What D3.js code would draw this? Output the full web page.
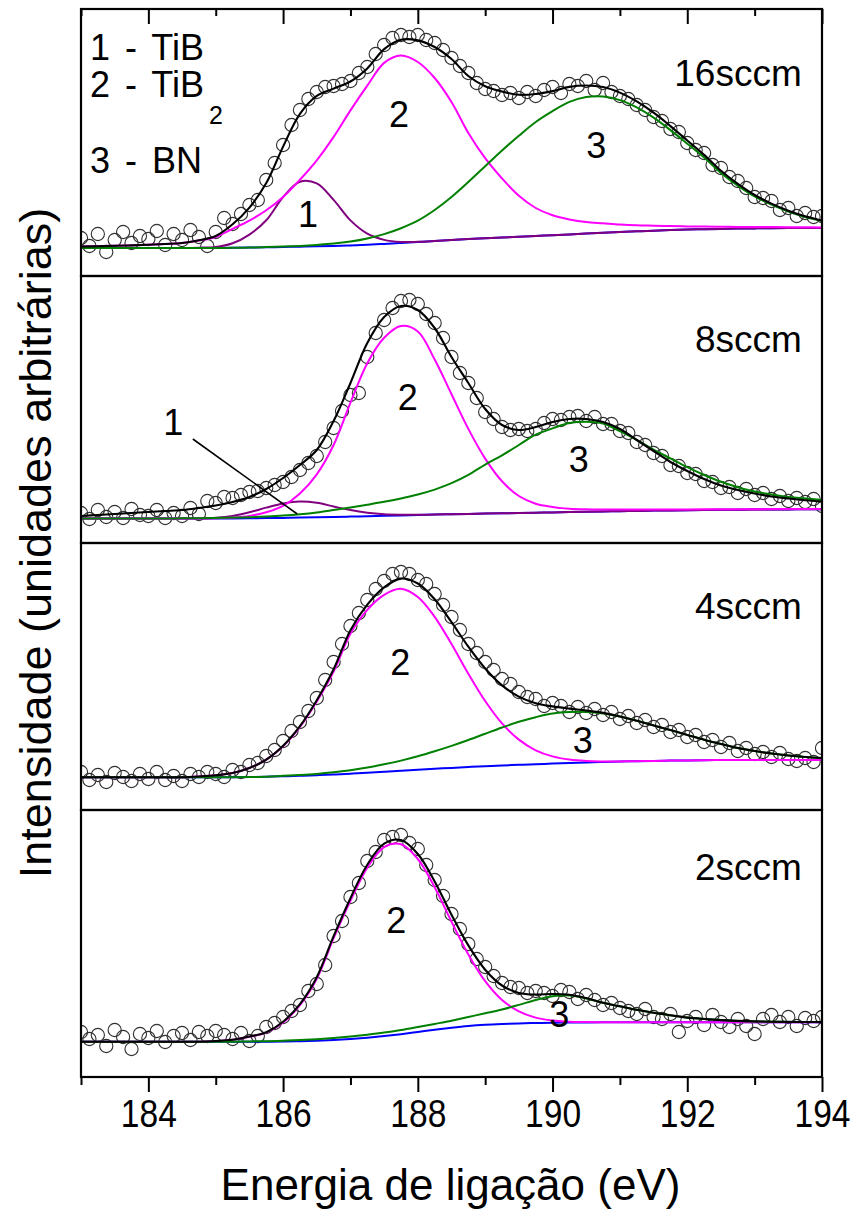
<!DOCTYPE html>
<html>
<head>
<meta charset="utf-8">
<script src="https://cdn.jsdelivr.net/npm/d3@7"></script>
<style>
  html, body { margin: 0; padding: 0; background: #ffffff; }
  svg text { font-family: "Liberation Sans", Arial, Helvetica, sans-serif; fill: #000; }
</style>
</head>
<body>
<svg id="chart" width="858" height="1215"></svg>
<script>
// ---------------- DATA ----------------
// energy grid for the fitted curves (eV)
const energyGrid = [183,183.25,183.5,183.75,184,184.25,184.5,184.75,185,185.25,185.5,185.75,186,186.25,186.5,186.75,187,187.25,187.5,187.75,188,188.25,188.5,188.75,189,189.25,189.5,189.75,190,190.25,190.5,190.75,191,191.25,191.5,191.75,192,192.25,192.5,192.75,193,193.25,193.5,193.75,194];
// energies of the measured points (eV)
const scatterEnergy = [183,183.125,183.25,183.375,183.5,183.625,183.75,183.875,184,184.125,184.25,184.375,184.5,184.625,184.75,184.875,185,185.125,185.25,185.375,185.5,185.625,185.75,185.875,186,186.125,186.25,186.375,186.5,186.625,186.75,186.875,187,187.125,187.25,187.375,187.5,187.625,187.75,187.875,188,188.125,188.25,188.375,188.5,188.625,188.75,188.875,189,189.125,189.25,189.375,189.5,189.625,189.75,189.875,190,190.125,190.25,190.375,190.5,190.625,190.75,190.875,191,191.125,191.25,191.375,191.5,191.625,191.75,191.875,192,192.125,192.25,192.375,192.5,192.625,192.75,192.875,193,193.125,193.25,193.375,193.5,193.625,193.75,193.875,194];

const panelLabels = ["16sccm", "8sccm", "4sccm", "2sccm"];
const xMajorTicks = [184, 186, 188, 190, 192, 194];
const xMinorTicks = [183, 185, 187, 189, 191, 193];
const legendItems = ["1 - TiB", "2 - TiB", "3 - BN"];

// ---- 16 sccm ----
const bg16   = [28,28,28,28,28,28,28,28,28,28.2,28.4,28.7,29,29.3,29.7,30.1,30.6,31.3,32.1,33,34,35,36,37,37.8,38.5,39.2,40,40.8,41.6,42.4,43.2,44,44.7,45.3,45.9,46.4,46.8,47.1,47.4,47.6,47.8,47.9,48,48];
const tib16  = [0,0,0,0,0,0,0,0.3,1,4.5,13,27,50,65,63,46,25,11,4,1,0.2,0,0,0,0,0,0,0,0,0,0,0,0,0,0,0,0,0,0,0,0,0,0,0,0];
const tib2_16= [1.5,1.8,2.2,2.6,3.2,4,5,7.5,11,19,27,37,50,67,86,109,135,159,181,187.5,180,163,138,106,80,59,41,28,20,15,11.5,9.5,7.5,6,5,4,3.2,2.6,2.1,1.7,1.4,1.1,0.9,0.7,0.5];
const bn16   = [0,0,0,0,0,0,0,0,0,0,0,0.2,0.4,0.8,1.4,2.3,3.9,6.3,9.8,14.8,21.4,31,43,57,72,87,101,114,124.1,132.5,136.6,136.3,131.9,123.9,113,100,85.9,71.7,56,43,32,23.5,16.5,11,7];
const fit16  = [29.5,29.8,30.2,30.6,31.2,32,33,35.8,40,51.7,68.4,92.9,129.4,162.1,180.1,187.4,194.5,207.6,226.9,236.3,235.6,229,217,200,189.8,184.5,181.2,182,184.9,189.1,190.5,189,183.4,174.6,163.3,149.9,135.5,121.1,105.2,92.1,81,72.4,65.3,59.7,55.5];
const data16 = [38,30,42,24,36,44,33,40,37,45,31,42,36,46,39,30,44,58,52,62,71,76,96,113,131,151,166,177,184,189,190,192,195,203,209,222,231,238,241,239,241,236,233,226,218,210,203,193,187,185,181,183,178,184,180,186,189,183,192,190,195,186,193,184,180,177,171,166,159,155,147,144,133,126,123,111,108,99,95,88,79,78,75,66,68,60,63,59,60];

// ---- 8 sccm ----
const bg8    = [24.5,24.5,24.5,24.5,24.5,24.5,24.5,24.5,24.5,24.6,24.7,24.9,25.1,25.4,25.7,26,26.4,26.8,27.2,27.6,28,28.4,28.8,29.1,29.4,29.7,30,30.3,30.6,30.9,31.2,31.5,31.8,32.1,32.4,32.6,32.8,33,33.2,33.3,33.4,33.5,33.6,33.7,33.7];
const tib8   = [0,0,0,0,0,0,0,0.2,0.8,2.5,6,10.5,14.5,16,14.5,10.5,6.5,3.5,1.6,0.7,0.2,0,0,0,0,0,0,0,0,0,0,0,0,0,0,0,0,0,0,0,0,0,0,0,0];
const tib2_8 = [0,0,0,0,0,0,0,0,0.3,0.9,2.4,5.8,12,24,43,72,114,153,178,189.4,183.5,155,120,85,55,32,17,9,5.5,3.3,2.5,2,1.6,1.3,1.1,0.9,0.8,0.7,0.6,0.5,0.4,0.4,0.3,0.3,0.3];
const bn8    = [0,0,0,0,0,0,0.2,0.3,0.5,0.8,1.1,1.6,2.3,3.3,4.8,7,9.2,11.5,14,17,20.5,25,31,39,49,58,68,78,84,89,90,88,80,71,61,52,43,35,28,22.5,18,15,12.5,10.8,9.3];
const fit8   = [27,28,29,30,31,32,33,35,37.5,41,46,54,65,78,93,122,160,200,226,237,233,215,186,160,134,118,113,116,121,124,124,121,114,103,92,81,72,64,57.5,53,49.5,46.5,44.5,42.8,41.3];
const data8  = [30,24,33,26,31,25,34,28,27,33,25,30,27,35,29,42,40,46,45,48,51,52,55,58,61,66,73,80,87,101,115,132,148,150,186,210,223,235,242,243,239,229,220,205,186,170,160,145,131,124,116,113,114,112,114,120,124,123,126,127,122,126,119,119,112,110,101,98,90,87,78,77,70,69,62,61,55,56,50,54,48,50,44,47,42,45,41,44,37];

// ---- 4 sccm ----
const bg4    = [32.7,32.7,32.7,32.7,32.7,32.7,32.7,32.7,32.7,32.7,33,33.3,33.7,34.2,34.8,35.5,36.3,37.2,38.2,39.2,40.2,41.2,42.1,43,43.8,44.5,45.2,45.8,46.4,47,47.5,48,48.4,48.8,49.1,49.4,49.6,49.8,50,50,50,50,50,50,50];
const tib2_4 = [0,0,0,0,0,0,0,0.8,2,4.3,9,17,30,48.8,73.7,103,140,163,177,182,172.8,152,123.8,93.3,65.2,42.1,25.2,13.9,7.2,3.4,1.5,0.6,0.2,0,0,0,0,0,0,0,0,0,0,0,0];
const bn4    = [0,0,0,0,0,0,0,0,0,0,0,0,0.5,0.8,1.3,2.2,3.5,5.2,7.5,10.2,13.5,17.5,22,27,32.5,38,43,47,50,51,50.5,48.5,45,40.5,35.5,30.5,25.5,20.5,16,12,9,6.5,4.5,3,2];
const fit4   = [32.7,32.7,32.7,32.7,32.7,32.7,32.7,33.5,34.7,37,42,50.3,64.2,83.8,109.8,140.7,179.8,205.4,222.7,231.4,226.5,210.7,187.9,163.3,141.5,124.6,113.4,106.7,103.6,101.4,99.5,97.1,93.6,89.3,84.6,79.9,75.1,70.3,66,62,59,56.5,54.5,53,52];
const data4  = [38,30,35,28,37,33,29,36,31,38,30,34,29,36,33,38,36,33,40,38,45,47,54,60,69,79,88,99,112,130,148,166,184,197,210,221,229,236,238,236,230,226,216,205,193,180,166,157,148,140,131,126,118,113,111,104,107,104,98,103,97,101,95,98,91,94,87,90,83,85,78,80,73,75,68,70,63,67,59,62,56,58,53,57,51,49,52,48,62];

// ---- 2 sccm ----
const bg2    = [35.3,35.3,35.3,35.3,35.3,35.3,35.3,35.3,35.3,35.3,35.3,35.3,35.5,35.8,36.3,37,38,39.3,40.9,42.8,45,47.3,49.3,51,52.2,53,53.6,54,54.3,54.5,54.6,54.7,54.7,54.7,54.7,54.7,54.7,54.7,54.7,54.7,54.7,54.7,54.7,54.7,54.7];
const tib2_2 = [0,0,0,0,0,0,0,0,0.7,2,4.9,9,19,36,62,101.8,138.3,170,189,190,173,142.5,106,71.6,43.6,24,12,5.4,2.2,0.8,0.3,0,0,0,0,0,0,0,0,0,0,0,0,0,0];
const bn2    = [0,0,0,0,0,0,0,0,0,0,0.3,0.5,0.8,1.1,1.5,2,2.5,3,3.5,4.2,5,5.8,7,9,11.5,14.5,18.5,23,26.5,27,24,19.5,16,12.5,9.5,7,4.7,3.3,2.2,1.4,0.9,0.6,0.4,0.3,0.2];
const fit2   = [35.3,35.3,35.3,35.3,35.3,35.3,35.3,35.3,36,37.3,40.5,44.8,55.3,72.9,99.8,140.8,178.8,212.3,233.4,237,223,195.6,162.3,131.6,107.3,91.5,84.1,82.4,83,82.3,78.9,74.2,70.7,67.2,64.2,61.7,59.4,58,56.9,56.1,55.6,55.3,55.1,55,54.9];
const data2  = [45,38,42,31,47,40,28,43,39,46,35,41,44,37,45,41,46,42,38,44,36,41,50,54,60,66,72,86,93,112,141,156,180,194,216,225,237,240,242,234,228,212,197,181,163,148,133,118,110,101,94,90,89,84,86,84,81,87,85,78,82,77,72,74,69,66,63,68,60,58,63,45,56,60,52,62,55,50,58,51,43,58,62,55,60,51,59,56,60];

// ---------------- LAYOUT / STYLE ----------------
const W = 858, H = 1215;
const plotLeft = 81, plotRight = 822;
const firstTop = 9, panelH = 267;
const yMax = 267;
const COLORS = { bg: "#0000ff", tib: "#800080", tib2: "#ff00ff", bn: "#008000", fit: "#000000", pts: "#303030" };
const FONT = '"Liberation Sans", Arial, Helvetica, sans-serif';

const panels = [
  { label: panelLabels[0], bg: bg16, comps: [["tib", tib16], ["tib2", tib2_16], ["bn", bn16]], fit: fit16, pts: data16,
    peaks: [["1",186.37,49],["2",187.72,149],["3",190.65,118]], labelY: 190 },
  { label: panelLabels[1], bg: bg8, comps: [["tib", tib8], ["tib2", tib2_8], ["bn", bn8]], fit: fit8, pts: data8,
    peaks: [["1",184.37,108],["2",187.85,133],["3",190.39,71]], labelY: 191,
    leader: [[184.66,104],[186.21,29]] },
  { label: panelLabels[2], bg: bg4, comps: [["tib2", tib2_4], ["bn", bn4]], fit: fit4, pts: data4,
    peaks: [["2",187.74,135],["3",190.45,57]], labelY: 191 },
  { label: panelLabels[3], bg: bg2, comps: [["tib2", tib2_2], ["bn", bn2]], fit: fit2, pts: data2,
    peaks: [["2",187.68,144],["3",190.1,50]], labelY: 197 }
];

const svg = d3.select("#chart");
svg.append("rect").attr("width", W).attr("height", H).attr("fill", "#fff");

const x = d3.scaleLinear().domain([183, 194]).range([plotLeft, plotRight]);

const drawOrder = ["tib", "tib2", "bn"];

panels.forEach((p, i) => {
  const top = firstTop + i * panelH;
  const bottom = top + panelH;
  const y = d3.scaleLinear().domain([0, yMax]).range([bottom, top]);

  const clipId = "clip" + i;
  svg.append("clipPath").attr("id", clipId)
    .append("rect").attr("x", plotLeft).attr("y", top).attr("width", plotRight - plotLeft).attr("height", panelH);

  const g = svg.append("g").attr("clip-path", `url(#${clipId})`);

  // measured points
  g.selectAll("circle.pt").data(scatterEnergy.map((e, k) => [e, p.pts[k]]))
    .join("circle").attr("class", "pt")
    .attr("cx", d => x(d[0])).attr("cy", d => y(d[1]))
    .attr("r", 6.6).attr("fill", "none").attr("stroke", COLORS.pts).attr("stroke-width", 1.1);

  const line = d3.line().x(d => x(d[0])).y(d => y(d[1])).curve(d3.curveCatmullRom.alpha(0.5));

  // background
  g.append("path").datum(energyGrid.map((e, k) => [e, p.bg[k]]))
    .attr("d", line).attr("fill", "none").attr("stroke", COLORS.bg).attr("stroke-width", 2);

  // components (peak + background)
  drawOrder.forEach(key => {
    const c = p.comps.find(cc => cc[0] === key);
    if (!c) return;
    g.append("path").datum(energyGrid.map((e, k) => [e, p.bg[k] + c[1][k]]))
      .attr("d", line).attr("fill", "none").attr("stroke", COLORS[key]).attr("stroke-width", 2);
  });

  // envelope
  g.append("path").datum(energyGrid.map((e, k) => [e, p.fit[k]]))
    .attr("d", line).attr("fill", "none").attr("stroke", COLORS.fit).attr("stroke-width", 2.1);

  // peak labels
  p.peaks.forEach(pk => {
    svg.append("text").attr("x", x(pk[1])).attr("y", y(pk[2]))
      .attr("text-anchor", "middle").attr("font-size", 36).text(pk[0]);
  });
  if (p.leader) {
    svg.append("line")
      .attr("x1", x(p.leader[0][0])).attr("y1", y(p.leader[0][1]))
      .attr("x2", x(p.leader[1][0])).attr("y2", y(p.leader[1][1]))
      .attr("stroke", "#000").attr("stroke-width", 1.6);
  }

  // panel label
  svg.append("text").attr("x", x(193.7)).attr("y", y(p.labelY))
    .attr("text-anchor", "end").attr("font-size", 37).text(p.label);

  // frame
  svg.append("rect").attr("x", plotLeft).attr("y", top).attr("width", plotRight - plotLeft).attr("height", panelH)
    .attr("fill", "none").attr("stroke", "#000").attr("stroke-width", 2.2);

  // ticks: top panel inward at the top, bottom panel outward at the bottom
  if (i === 0) {
    const axTop = d3.axisTop(x).tickValues(xMajorTicks).tickSize(-15).tickFormat("");
    const gt = svg.append("g").attr("transform", `translate(0,${top})`).call(axTop);
    const axTopMinor = d3.axisTop(x).tickValues(xMinorTicks).tickSize(-7).tickFormat("");
    const gtm = svg.append("g").attr("transform", `translate(0,${top})`).call(axTopMinor);
    [gt, gtm].forEach(s => { s.select(".domain").remove(); s.selectAll("line").attr("stroke-width", 2); });
  }
  if (i === panels.length - 1) {
    const axB = d3.axisBottom(x).tickValues(xMajorTicks).tickSize(15).tickPadding(8).tickFormat(d3.format("d"));
    const gb = svg.append("g").attr("transform", `translate(0,${bottom})`).call(axB);
    const axBMinor = d3.axisBottom(x).tickValues(xMinorTicks).tickSize(8).tickFormat("");
    const gbm = svg.append("g").attr("transform", `translate(0,${bottom})`).call(axBMinor);
    [gb, gbm].forEach(s => { s.select(".domain").remove(); s.selectAll("line").attr("stroke-width", 2); });
    gb.selectAll("text").attr("font-size", 38).attr("font-family", FONT).attr("fill", "#000")
      .attr("textLength", 56).attr("lengthAdjust", "spacingAndGlyphs");
  }
});

// legend
svg.append("text").attr("x", 90).attr("y", 60).attr("font-size", 36)
  .attr("word-spacing", 5).text(legendItems[0]);
svg.append("text").attr("x", 90).attr("y", 97).attr("font-size", 36)
  .attr("word-spacing", 5).text(legendItems[1]);
svg.append("text").attr("x", 209).attr("y", 124).attr("font-size", 25).text("2");
svg.append("text").attr("x", 90).attr("y", 173).attr("font-size", 36)
  .attr("word-spacing", 5).text(legendItems[2]);

// axis titles
svg.append("text").attr("x", (plotLeft + plotRight) / 2 - 1).attr("y", 1200)
  .attr("text-anchor", "middle").attr("font-size", 44).text("Energia de ligação (eV)");
svg.append("text").attr("transform", "translate(51,543) rotate(-90)")
  .attr("text-anchor", "middle").attr("font-size", 45).text("Intensidade (unidades arbitrárias)");
</script>
</body>
</html>
